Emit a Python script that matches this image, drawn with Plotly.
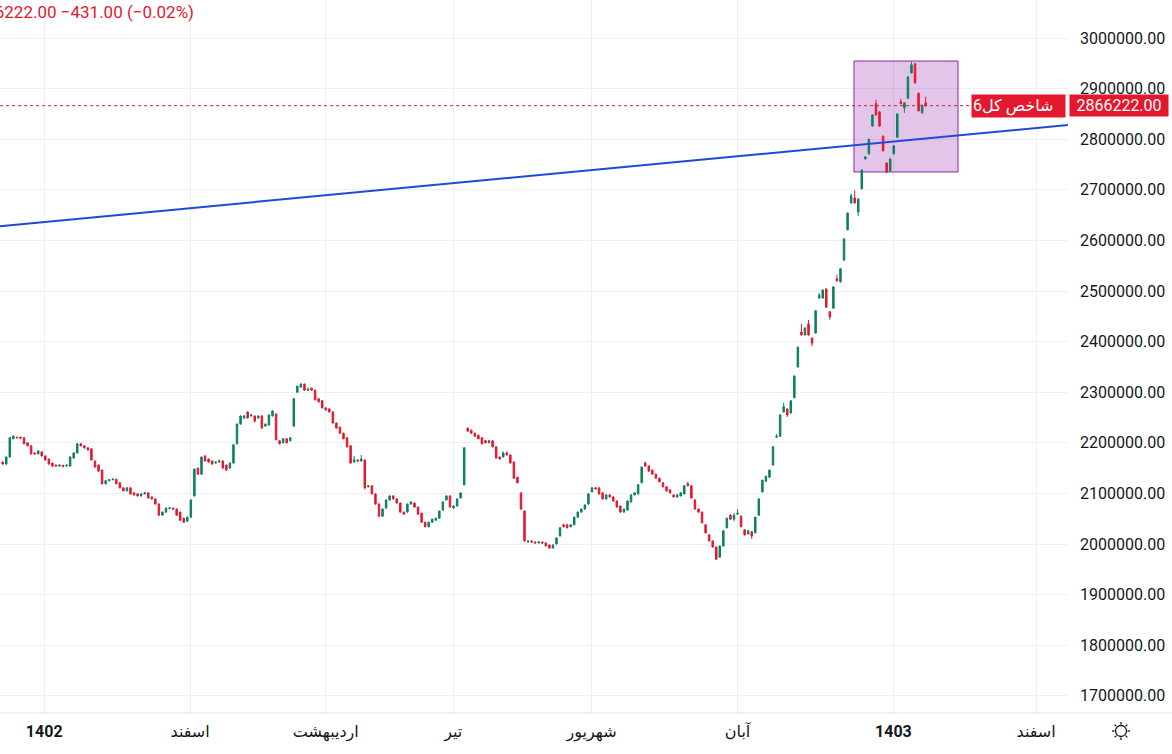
import math
import plotly.graph_objects as go

# daily OHLC of the index
open_ = [
    2162e3, 2158e3, 2172e3, 2208e3, 2211e3, 2211e3, 2210e3, 2200e3, 2194e3, 2180e3,
    2178e3, 2182e3, 2174e3, 2168e3, 2160e3, 2156e3, 2154e3, 2155e3, 2154e3, 2154e3,
    2170e3, 2180e3, 2198e3, 2194e3, 2190e3, 2188e3, 2164e3, 2156e3, 2146e3, 2119e3,
    2125e3, 2127e3, 2128e3, 2121e3, 2111e3, 2105e3, 2111e3, 2101e3, 2099e3, 2095e3,
    2099e3, 2101e3, 2093e3, 2089e3, 2079e3, 2057e3, 2063e3, 2070e3, 2071e3, 2069e3,
    2063e3, 2051e3, 2045e3, 2053e3, 2095e3, 2150e3, 2138e3, 2174e3, 2168e3, 2164e3,
    2160e3, 2162e3, 2164e3, 2156e3, 2150e3, 2160e3, 2198e3, 2237e3, 2249e3, 2261e3,
    2253e3, 2253e3, 2249e3, 2253e3, 2233e3, 2235e3, 2253e3, 2257e3, 2204e3, 2200e3,
    2208e3, 2204e3, 2233e3, 2300e3, 2310e3, 2316e3, 2304e3, 2308e3, 2304e3, 2287e3,
    2283e3, 2269e3, 2267e3, 2261e3, 2239e3, 2231e3, 2219e3, 2210e3, 2194e3, 2162e3,
    2166e3, 2164e3, 2166e3, 2113e3, 2115e3, 2099e3, 2079e3, 2055e3, 2071e3, 2087e3,
    2095e3, 2089e3, 2081e3, 2063e3, 2063e3, 2079e3, 2081e3, 2073e3, 2061e3, 2043e3,
    2034e3, 2043e3, 2047e3, 2051e3, 2067e3, 2087e3, 2095e3, 2071e3, 2075e3, 2091e3,
    2117e3, 2229e3, 2225e3, 2219e3, 2215e3, 2210e3, 2204e3, 2200e3, 2204e3, 2192e3,
    2172e3, 2172e3, 2180e3, 2176e3, 2162e3, 2132e3, 2101e3, 2065e3, 2004e3, 2006e3,
    2004e3, 2002e3, 2004e3, 2002e3, 1998e3, 1992e3, 2000e3, 2016e3, 2038e3, 2038e3,
    2034e3, 2038e3, 2053e3, 2063e3, 2069e3, 2079e3, 2103e3, 2111e3, 2111e3, 2101e3,
    2089e3, 2097e3, 2093e3, 2085e3, 2075e3, 2063e3, 2067e3, 2083e3, 2097e3, 2099e3,
    2121e3, 2160e3, 2154e3, 2146e3, 2138e3, 2130e3, 2121e3, 2113e3, 2107e3, 2097e3,
    2093e3, 2095e3, 2099e3, 2119e3, 2115e3, 2087e3, 2069e3, 2063e3, 2038e3, 2018e3,
    2006e3, 1994e3, 1974e3, 1996e3, 2032e3, 2057e3, 2049e3, 2059e3, 2055e3, 2028e3,
    2020e3, 2024e3, 2022e3, 2057e3, 2103e3, 2124e3, 2132e3, 2156e3, 2211e3, 2213e3,
    2261e3, 2267e3, 2259e3, 2289e3, 2350e3, 2419e3, 2413e3, 2435e3, 2407e3, 2417e3,
    2486e3, 2486e3, 2504e3, 2459e3, 2466e3, 2524e3, 2518e3, 2561e3, 2621e3, 2674e3,
    2684e3, 2656e3, 2702e3, 2761e3, 2771e3, 2826e3, 2870e3, 2854e3, 2806e3, 2753e3,
    2737e3, 2771e3, 2804e3, 2874e3, 2862e3, 2881e3, 2931e3, 2949e3, 2891e3, 2852e3,
    2872e3,
]
high = [
    2163e3, 2173e3, 2211e3, 2215e3, 2212e3, 2212e3, 2211e3, 2201e3, 2195e3, 2181e3,
    2185e3, 2183e3, 2175e3, 2169e3, 2161e3, 2157e3, 2157e3, 2157e3, 2157e3, 2173e3,
    2181e3, 2199e3, 2199e3, 2195e3, 2191e3, 2189e3, 2165e3, 2157e3, 2147e3, 2126e3,
    2128e3, 2130e3, 2129e3, 2122e3, 2112e3, 2112e3, 2112e3, 2102e3, 2100e3, 2100e3,
    2102e3, 2102e3, 2094e3, 2090e3, 2080e3, 2064e3, 2072e3, 2073e3, 2072e3, 2070e3,
    2064e3, 2052e3, 2054e3, 2088e3, 2149e3, 2151e3, 2173e3, 2175e3, 2169e3, 2165e3,
    2163e3, 2167e3, 2165e3, 2157e3, 2161e3, 2197e3, 2238e3, 2254e3, 2255e3, 2262e3,
    2257e3, 2254e3, 2254e3, 2255e3, 2238e3, 2256e3, 2264e3, 2258e3, 2205e3, 2209e3,
    2209e3, 2211e3, 2288e3, 2313e3, 2318e3, 2317e3, 2309e3, 2309e3, 2305e3, 2288e3,
    2284e3, 2270e3, 2268e3, 2262e3, 2240e3, 2232e3, 2220e3, 2211e3, 2195e3, 2174e3,
    2167e3, 2176e3, 2167e3, 2116e3, 2116e3, 2100e3, 2080e3, 2070e3, 2088e3, 2096e3,
    2096e3, 2090e3, 2082e3, 2064e3, 2080e3, 2085e3, 2082e3, 2074e3, 2062e3, 2044e3,
    2044e3, 2050e3, 2052e3, 2066e3, 2084e3, 2096e3, 2096e3, 2076e3, 2090e3, 2102e3,
    2191e3, 2230e3, 2226e3, 2220e3, 2216e3, 2211e3, 2206e3, 2206e3, 2205e3, 2193e3,
    2173e3, 2183e3, 2183e3, 2177e3, 2163e3, 2133e3, 2102e3, 2066e3, 2007e3, 2007e3,
    2005e3, 2005e3, 2005e3, 2003e3, 1999e3, 1999e3, 2013e3, 2033e3, 2040e3, 2039e3,
    2039e3, 2054e3, 2064e3, 2070e3, 2078e3, 2100e3, 2112e3, 2112e3, 2112e3, 2102e3,
    2098e3, 2098e3, 2094e3, 2086e3, 2076e3, 2070e3, 2086e3, 2098e3, 2102e3, 2118e3,
    2153e3, 2163e3, 2155e3, 2147e3, 2139e3, 2131e3, 2122e3, 2114e3, 2108e3, 2098e3,
    2098e3, 2102e3, 2116e3, 2123e3, 2116e3, 2088e3, 2070e3, 2064e3, 2039e3, 2019e3,
    2007e3, 1995e3, 1997e3, 2027e3, 2052e3, 2059e3, 2061e3, 2069e3, 2056e3, 2029e3,
    2027e3, 2025e3, 2054e3, 2090e3, 2127e3, 2135e3, 2147e3, 2193e3, 2217e3, 2256e3,
    2279e3, 2268e3, 2284e3, 2333e3, 2390e3, 2435e3, 2428e3, 2443e3, 2408e3, 2462e3,
    2496e3, 2503e3, 2505e3, 2460e3, 2509e3, 2532e3, 2545e3, 2604e3, 2655e3, 2692e3,
    2699e3, 2683e3, 2740e3, 2767e3, 2801e3, 2849e3, 2878e3, 2855e3, 2807e3, 2754e3,
    2762e3, 2788e3, 2851e3, 2880e3, 2873e3, 2924e3, 2953e3, 2950e3, 2892e3, 2869e3,
    2884e3,
]
low = [
    2157e3, 2157e3, 2171e3, 2207e3, 2209e3, 2208e3, 2197e3, 2193e3, 2177e3, 2177e3,
    2177e3, 2173e3, 2165e3, 2157e3, 2153e3, 2153e3, 2153e3, 2152e3, 2153e3, 2153e3,
    2169e3, 2179e3, 2193e3, 2189e3, 2185e3, 2165e3, 2151e3, 2143e3, 2118e3, 2118e3,
    2124e3, 2126e3, 2118e3, 2110e3, 2104e3, 2104e3, 2098e3, 2096e3, 2094e3, 2094e3,
    2098e3, 2090e3, 2088e3, 2078e3, 2056e3, 2056e3, 2062e3, 2069e3, 2068e3, 2056e3,
    2046e3, 2042e3, 2044e3, 2052e3, 2094e3, 2137e3, 2137e3, 2163e3, 2161e3, 2157e3,
    2159e3, 2161e3, 2149e3, 2145e3, 2149e3, 2159e3, 2197e3, 2236e3, 2248e3, 2248e3,
    2252e3, 2240e3, 2248e3, 2228e3, 2232e3, 2234e3, 2252e3, 2205e3, 2197e3, 2199e3,
    2199e3, 2203e3, 2232e3, 2299e3, 2309e3, 2303e3, 2303e3, 2303e3, 2284e3, 2280e3,
    2268e3, 2264e3, 2260e3, 2238e3, 2228e3, 2218e3, 2207e3, 2191e3, 2159e3, 2161e3,
    2163e3, 2163e3, 2108e3, 2112e3, 2098e3, 2078e3, 2054e3, 2054e3, 2070e3, 2086e3,
    2088e3, 2080e3, 2062e3, 2058e3, 2062e3, 2078e3, 2072e3, 2058e3, 2042e3, 2033e3,
    2033e3, 2042e3, 2046e3, 2050e3, 2066e3, 2086e3, 2072e3, 2070e3, 2074e3, 2090e3,
    2116e3, 2222e3, 2218e3, 2212e3, 2207e3, 2197e3, 2199e3, 2199e3, 2191e3, 2169e3,
    2167e3, 2171e3, 2175e3, 2159e3, 2129e3, 2120e3, 2068e3, 2005e3, 2003e3, 2003e3,
    2001e3, 2001e3, 2001e3, 1995e3, 1991e3, 1991e3, 1999e3, 2015e3, 2033e3, 2031e3,
    2033e3, 2037e3, 2052e3, 2062e3, 2068e3, 2078e3, 2102e3, 2108e3, 2098e3, 2088e3,
    2088e3, 2092e3, 2084e3, 2072e3, 2062e3, 2062e3, 2066e3, 2082e3, 2096e3, 2098e3,
    2120e3, 2153e3, 2143e3, 2137e3, 2129e3, 2122e3, 2112e3, 2104e3, 2100e3, 2092e3,
    2092e3, 2094e3, 2098e3, 2114e3, 2090e3, 2068e3, 2062e3, 2041e3, 2021e3, 2005e3,
    1993e3, 1969e3, 1973e3, 1995e3, 2031e3, 2048e3, 2045e3, 2058e3, 2033e3, 2017e3,
    2019e3, 2010e3, 2021e3, 2056e3, 2102e3, 2123e3, 2131e3, 2155e3, 2210e3, 2212e3,
    2260e3, 2251e3, 2258e3, 2288e3, 2349e3, 2412e3, 2412e3, 2412e3, 2391e3, 2416e3,
    2485e3, 2485e3, 2467e3, 2443e3, 2465e3, 2519e3, 2517e3, 2560e3, 2620e3, 2673e3,
    2673e3, 2648e3, 2701e3, 2760e3, 2770e3, 2825e3, 2847e3, 2825e3, 2776e3, 2734e3,
    2736e3, 2770e3, 2803e3, 2869e3, 2852e3, 2880e3, 2930e3, 2910e3, 2855e3, 2851e3,
    2865e3,
]
close = [
    2158e3, 2172e3, 2210e3, 2213e3, 2210e3, 2209e3, 2198e3, 2194e3, 2178e3, 2178e3,
    2184e3, 2174e3, 2166e3, 2158e3, 2154e3, 2154e3, 2156e3, 2153e3, 2156e3, 2172e3,
    2180e3, 2198e3, 2194e3, 2190e3, 2186e3, 2166e3, 2152e3, 2144e3, 2119e3, 2125e3,
    2127e3, 2128e3, 2119e3, 2111e3, 2105e3, 2111e3, 2099e3, 2097e3, 2095e3, 2099e3,
    2101e3, 2091e3, 2089e3, 2079e3, 2057e3, 2063e3, 2071e3, 2071e3, 2069e3, 2057e3,
    2047e3, 2043e3, 2053e3, 2087e3, 2148e3, 2138e3, 2172e3, 2164e3, 2162e3, 2158e3,
    2162e3, 2164e3, 2150e3, 2146e3, 2160e3, 2196e3, 2237e3, 2253e3, 2253e3, 2249e3,
    2255e3, 2243e3, 2253e3, 2229e3, 2237e3, 2255e3, 2263e3, 2206e3, 2198e3, 2208e3,
    2200e3, 2210e3, 2287e3, 2312e3, 2316e3, 2304e3, 2306e3, 2304e3, 2285e3, 2281e3,
    2269e3, 2265e3, 2261e3, 2239e3, 2229e3, 2219e3, 2208e3, 2192e3, 2160e3, 2166e3,
    2164e3, 2168e3, 2111e3, 2115e3, 2099e3, 2079e3, 2055e3, 2069e3, 2087e3, 2095e3,
    2089e3, 2081e3, 2063e3, 2059e3, 2079e3, 2083e3, 2073e3, 2059e3, 2043e3, 2034e3,
    2043e3, 2049e3, 2051e3, 2065e3, 2083e3, 2095e3, 2073e3, 2075e3, 2089e3, 2101e3,
    2190e3, 2223e3, 2219e3, 2213e3, 2208e3, 2198e3, 2200e3, 2204e3, 2192e3, 2170e3,
    2168e3, 2180e3, 2176e3, 2160e3, 2130e3, 2121e3, 2069e3, 2006e3, 2006e3, 2004e3,
    2002e3, 2004e3, 2002e3, 1996e3, 1992e3, 1998e3, 2012e3, 2032e3, 2034e3, 2032e3,
    2038e3, 2053e3, 2063e3, 2069e3, 2077e3, 2099e3, 2111e3, 2109e3, 2099e3, 2089e3,
    2097e3, 2093e3, 2085e3, 2073e3, 2063e3, 2069e3, 2085e3, 2097e3, 2101e3, 2117e3,
    2152e3, 2154e3, 2144e3, 2138e3, 2130e3, 2123e3, 2113e3, 2105e3, 2101e3, 2093e3,
    2097e3, 2101e3, 2115e3, 2115e3, 2091e3, 2069e3, 2063e3, 2042e3, 2022e3, 2006e3,
    1994e3, 1970e3, 1996e3, 2026e3, 2051e3, 2049e3, 2057e3, 2061e3, 2034e3, 2018e3,
    2026e3, 2016e3, 2053e3, 2089e3, 2126e3, 2134e3, 2146e3, 2192e3, 2213e3, 2255e3,
    2271e3, 2255e3, 2283e3, 2332e3, 2389e3, 2413e3, 2427e3, 2413e3, 2397e3, 2461e3,
    2492e3, 2502e3, 2468e3, 2449e3, 2508e3, 2520e3, 2544e3, 2603e3, 2654e3, 2688e3,
    2674e3, 2682e3, 2739e3, 2765e3, 2800e3, 2848e3, 2848e3, 2826e3, 2777e3, 2735e3,
    2761e3, 2787e3, 2850e3, 2870e3, 2872e3, 2923e3, 2947e3, 2911e3, 2856e3, 2866653,
    2866222,
]
bar = list(range(len(close)))

# time-axis labels (bar index where TradingView put them)
tick_pos = [11.7, 52.8, 91.0, 126.9, 165.9, 207.0, 250.9, 291.1]
tick_text = ["<b>1402</b>", "اسفند", "اردیبهشت", "تیر", "شهریور", "آبان", "<b>1403</b>", "اسفند"]

symbol = "شاخص کل6"
last_price = 2866222
change = -431.00
change_pct = -0.02

# drawings on the chart
trend_a = (-1, 2628000)
trend_b = (301, 2828700)
zone_x = (239.8, 269.1)
zone_y = (2735200, 2954500)

UP = "#0b8062"
DOWN = "#e3182d"
BLUE = "#1d4bd6"
TXT = "#131722"
GRID = "#eeeff2"
FONT = "Roboto, 'DejaVu Sans', sans-serif"
PW, PH = 1068, 713   # plot area in pixels


def px(x, y):
    """pixel position in the page -> paper coords"""
    return x / PW, (PH - y) / PH


fig = go.Figure(go.Candlestick(
    x=bar, open=open_, high=high, low=low, close=close,
    increasing=dict(line=dict(color=UP, width=1), fillcolor=UP),
    decreasing=dict(line=dict(color=DOWN, width=1), fillcolor=DOWN),
    whiskerwidth=0, showlegend=False, hoverinfo="skip",
))

fig.add_shape(type="rect", xref="x", yref="y", layer="between",
              x0=zone_x[0], x1=zone_x[1], y0=zone_y[0], y1=zone_y[1],
              fillcolor="rgba(156,39,176,0.27)", line=dict(color="#8e24aa", width=1))
fig.add_shape(type="line", xref="x", yref="y",
              x0=trend_a[0], y0=trend_a[1], x1=trend_b[0], y1=trend_b[1],
              line=dict(color=BLUE, width=2))
fig.add_shape(type="line", xref="paper", yref="y", x0=0, x1=1, y0=last_price, y1=last_price,
              line=dict(color=DOWN, width=1, dash="dot"))
# bottom border of the time scale, runs under the price scale too
fig.add_shape(type="line", xref="paper", yref="paper", x0=0, x1=1172 / PW, y0=0, y1=0,
              line=dict(color="#e0e3eb", width=1))

# settings (sun) icon in the corner
cx, cy = 1121, 731
x0, y0 = px(cx - 5.5, cy - 5.5)
x1, y1 = px(cx + 5.5, cy + 5.5)
fig.add_shape(type="circle", xref="paper", yref="paper", x0=x0, x1=x1, y0=y0, y1=y1,
              line=dict(color=TXT, width=1.3))
for k in range(8):
    a = k * math.pi / 4
    xa, ya = px(cx + 6.5 * math.cos(a), cy + 6.5 * math.sin(a))
    xb, yb = px(cx + 9 * math.cos(a), cy + 9 * math.sin(a))
    fig.add_shape(type="line", xref="paper", yref="paper", x0=xa, y0=ya, x1=xb, y1=yb,
                  line=dict(color=TXT, width=1.3))

fig.add_annotation(xref="paper", yref="y", x=1.0, y=last_price, xanchor="left", xshift=1,
                   text=f"{last_price:.2f}", showarrow=False, bgcolor=DOWN, borderpad=1,
                   width=96, font=dict(family=FONT, size=16, color="white"))
fig.add_annotation(xref="paper", yref="y", x=1066 / PW, y=last_price, xanchor="right",
                   text=symbol, showarrow=False, bgcolor=DOWN, borderpad=1, width=91, align="left",
                   font=dict(family=FONT, size=16, color="white"))
fig.add_annotation(xref="paper", yref="paper", x=196 / PW, y=1, xanchor="right", yanchor="top",
                   text=f"C{last_price:.2f} \u2212{abs(change):.2f} (\u2212{abs(change_pct):.2f}%)",
                   showarrow=False, font=dict(family=FONT, size=17, color=DOWN))

fig.update_layout(
    width=1172, height=754,
    margin=dict(l=0, r=1172 - PW, t=0, b=754 - PH),
    paper_bgcolor="white", plot_bgcolor="white",
    font=dict(family=FONT, size=16, color=TXT),
    boxgap=0.4,
    showlegend=False,
    xaxis=dict(range=[-0.76, 300.09], tickvals=tick_pos, ticktext=tick_text,
               showgrid=True, gridcolor=GRID, gridwidth=1, zeroline=False, showline=False,
               ticks="", ticklabelstandoff=7, rangeslider=dict(visible=False),
               tickfont=dict(family=FONT, size=16, color=TXT)),
    yaxis=dict(side="right", range=[1666000, 3075100], dtick=100000, tickformat=".2f",
               showgrid=True, gridcolor=GRID, gridwidth=1, zeroline=False, showline=False,
               ticks="", ticklabelstandoff=11, tickfont=dict(family=FONT, size=16, color=TXT)),
)

# the page has no body margin in the reference screenshot
fig.write_html("out.html", config={"displayModeBar": False},
               post_script="document.body.style.margin='0';")
